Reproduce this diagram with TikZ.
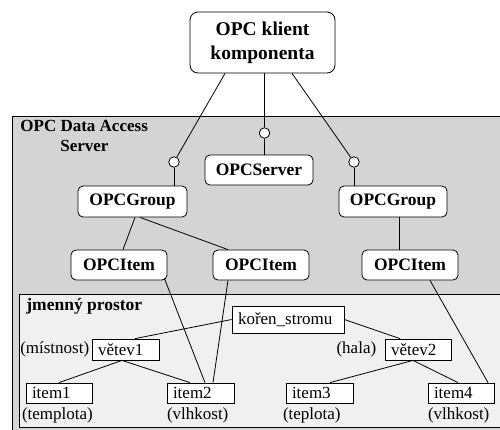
\documentclass[tikz,border=0pt]{standalone}
\usepackage{fontspec}
\setmainfont{Liberation Serif}
\begin{document}
\begin{tikzpicture}[x=1pt,y=-1pt,
  line width=0.8pt,
  obox/.style={draw, rounded corners=5pt, fill=white, font=\fontsize{17.5}{20}\selectfont\bfseries, inner sep=0pt, minimum height=30pt},
  nbox/.style={draw, fill=white, font=\fontsize{17}{19}\selectfont, inner xsep=6pt, inner ysep=0pt, align=left, minimum height=20pt},
  lolli/.style={draw, circle, fill=white, inner sep=0pt, minimum size=10.5pt},
  lab/.style={font=\fontsize{17}{19}\selectfont, inner sep=0pt},
]
\useasboundingbox (0,0) rectangle (500,429);
\clip (0,0) rectangle (500,429);
% containers
\path[draw, fill={rgb,255:red,212;green,212;blue,212}] (12,116) rectangle (520,450);
\path[draw, fill={rgb,255:red,240;green,240;blue,240}] (19,294) rectangle (520,427.5);
\node[anchor=north west, inner sep=0pt, font=\fontsize{17}{20}\selectfont\bfseries, align=left] (srvlab) at (20,120) {OPC Data Access\\\hspace*{40pt}Server};
\node[anchor=north west, inner sep=0pt, font=\fontsize{17.5}{20}\selectfont\bfseries] (nslab) at (26,298) {jmenný prostor};
% client
\node[draw, rounded corners=8pt, fill=white, minimum width=145pt, minimum height=61pt, align=center, inner sep=0pt,
  font=\fontsize{19.5}{24}\selectfont\bfseries] (client) at (262.5,42.5) {OPC klient\\komponenta};
% lollipops
\node[lolli] (c1) at (174,162) {};
\node[lolli] (c2) at (264.5,133) {};
\node[lolli] (c3) at (354,162) {};
% OPC boxes
\node[obox, minimum width=108pt] (srv) at (259,170) {OPCServer};
\node[obox, minimum width=109pt, minimum height=31pt] (gL) at (132.5,201.5) {OPCGroup};
\node[obox, minimum width=108pt, minimum height=31pt] (gR) at (393,201.5) {OPCGroup};
\node[obox, minimum width=96pt] (iL) at (119,265) {OPCItem};
\node[obox, minimum width=96pt] (iM) at (261,265) {OPCItem};
\node[obox, minimum width=96pt] (iR) at (410,265) {OPCItem};
% namespace boxes
\node[nbox, text width=100pt, minimum height=27pt] (koren) at (288,319.5) {kořen\_stromu};
\node[nbox, text width=55pt, minimum height=21pt] (v1) at (125.5,349.5) {větev1};
\node[nbox, text width=54pt, minimum height=21pt] (v2) at (418,349.5) {větev2};
\node[nbox, text width=54pt] (it1) at (59,393) {item1};
\node[nbox, text width=55pt] (it2) at (200.5,393) {item2};
\node[nbox, text width=55pt] (it3) at (319.5,393) {item3};
\node[nbox, text width=54pt] (it4) at (461,393) {item4};
% side labels
\node[lab, anchor=east] (l1) at ([xshift=-2pt]v1.west) {(místnost)};
\node[lab, anchor=east] (l2) at ([xshift=-8pt]v2.west) {(hala)};
\node[lab, anchor=north west] (l3) at ([xshift=-4pt,yshift=-4pt]it1.south west) {(templota)};
\node[lab, anchor=north west] (l4) at ([xshift=0pt,yshift=-4pt]it2.south west) {(vlhkost)};
\node[lab, anchor=north west] (l5) at ([xshift=-3pt,yshift=-4pt]it3.south west) {(teplota)};
\node[lab, anchor=north west] (l6) at ([xshift=0pt,yshift=-4pt]it4.south west) {(vlhkost)};
% connectors
\draw ([xshift=-37.5pt]client.south) -- (c1);
\draw (client.south -| c2) -- (c2);
\draw ([xshift=29.5pt]client.south) -- (c3);
\draw (c2) -- (c2 |- srv.north);
\draw (c1) -- (c1 |- gL.north);
\draw (c3) -- (c3 |- gR.north);
\draw ([xshift=2.5pt]gL.south) -- ([xshift=4pt]iL.north);
\draw ([xshift=7.5pt]gL.south) -- ([xshift=-33pt]iM.north);
\draw ([xshift=6pt]gR.south) -- ([xshift=6pt]gR.south |- iR.north);
\draw ([xshift=-3pt,yshift=2pt]iL.south east) -- ([xshift=4.5pt]it2.north);
\draw ([xshift=-33pt]iM.south) -- ([xshift=12.5pt]it2.north);
\draw ([xshift=20pt]iR.south) -- ([xshift=27pt]it4.north);
\draw (koren.west) -- ([xshift=9.5pt]v1.north);
\draw (koren.east) -- ([xshift=-18pt]v2.north);
\draw ([xshift=-3.5pt]v1.south) -- (it1.north);
\draw ([xshift=-3.5pt]v1.south) -- ([xshift=-10.5pt]it2.north);
\draw ([xshift=-5pt]v2.south) -- ([xshift=10.5pt]it3.north);
\draw ([xshift=-5pt]v2.south) -- ([xshift=-3pt]it4.north);
\end{tikzpicture}
\end{document}
